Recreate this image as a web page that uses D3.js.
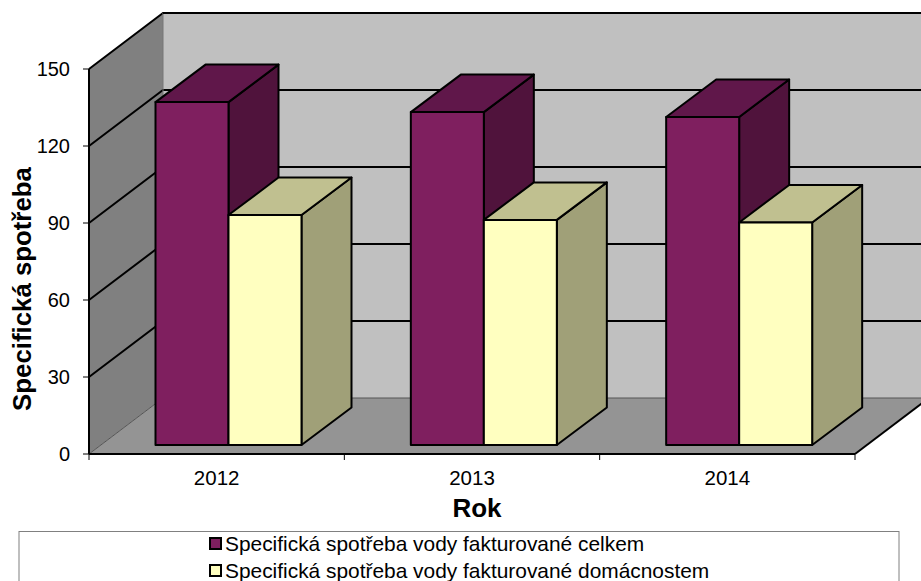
<!DOCTYPE html>
<html><head><meta charset="utf-8">
<script src="https://cdn.jsdelivr.net/npm/d3@7/dist/d3.min.js"></script>
<style>html,body{margin:0;padding:0;background:#fff}svg{display:block}text{font-family:"Liberation Sans",Arial,sans-serif;fill:#000}</style>
</head><body><svg id="c" width="921" height="581"></svg>
<script>
const years = ["2012","2013","2014"];
const total = [133.6,129.7,127.8];
const household = [89.6,87.7,86.7];
const seriesNames = ["Specifická spotřeba vody fakturované celkem","Specifická spotřeba vody fakturované domácnostem"];
const yTicks = [0,30,60,90,120,150];
const seriesFill = [
  {front:"#7f1f5f",top:"#60174a",side:"#50133c"},
  {front:"#ffffc0",top:"#c0c090",side:"#a0a078"}
];
const svg = d3.select("#c");
const X0=89,X1=855,Y0=454,Y1=69,DX=74,DY=-56;
const x = d3.scaleBand().domain(years).range([X0,X1]);
const y = d3.scaleLinear().domain([0,150]).range([Y0,Y1]);
const pts = a=>a.map(p=>p.join(",")).join(" ");
// walls
svg.append("polygon").attr("points",pts([[X0,Y1],[X0+DX,Y1+DY],[X0+DX,Y0+DY],[X0,Y0]])).attr("fill","#808080");
svg.append("polygon").attr("points",pts([[X0+DX,Y1+DY],[921,Y1+DY],[921,Y0+DY],[X0+DX,Y0+DY]])).attr("fill","#c0c0c0");
svg.append("polygon").attr("points",pts([[X0,Y0],[X0+DX,Y0+DY],[X1+DX,Y0+DY],[X1,Y0]])).attr("fill","#949494");
// grid
yTicks.forEach(t=>{
  const v=y(t), zero=t===0;
  svg.append("polyline").attr("points",pts([[X0,v],[X0+DX,v+DY],[921,v+DY]]))
    .attr("fill","none").attr("stroke",zero?"#555":"#000").attr("stroke-width",zero?1:2);
});
svg.append("line").attr("x1",X0+DX).attr("x2",X0+DX).attr("y1",Y1+DY).attr("y2",Y0+DY).attr("stroke","#777").attr("stroke-width",1);
// bars
const barW=73, bx=66.5, bdx=50, bdy=-37.5, base=Y0-9;
years.forEach((yr,i)=>{
  [total[i],household[i]].forEach((val,s)=>{
    const l=x(yr)+bx+s*barW, r=l+barW, h=Y0-y(val), t=base-h, c=seriesFill[s];
    const g=svg.append("g").attr("stroke","#000").attr("stroke-width",2).attr("stroke-linejoin","round");
    g.append("polygon").attr("points",pts([[r,t],[r+bdx,t+bdy],[r+bdx,base+bdy],[r,base]])).attr("fill",c.side);
    g.append("polygon").attr("points",pts([[l,t],[l+bdx,t+bdy],[r+bdx,t+bdy],[r,t]])).attr("fill",c.top);
    g.append("rect").attr("x",l).attr("y",t).attr("width",barW).attr("height",h).attr("fill",c.front);
  });
});
// frame + axes
const ax=svg.append("g").attr("stroke","#000").attr("fill","none");
ax.append("polyline").attr("points",pts([[X0+DX,Y1+DY],[921,Y1+DY]])).attr("stroke-width",2);
ax.append("line").attr("x1",X0).attr("x2",X0).attr("y1",Y1).attr("y2",Y0).attr("stroke-width",2);
ax.append("line").attr("x1",X0).attr("x2",X1).attr("y1",Y0).attr("y2",Y0).attr("stroke-width",2);
ax.append("line").attr("x1",X1).attr("x2",X1+DX).attr("y1",Y0).attr("y2",Y0+DY).attr("stroke-width",2);
yTicks.forEach(t=>ax.append("line").attr("x1",X0-6).attr("x2",X0).attr("y1",y(t)).attr("y2",y(t)).attr("stroke-width",1));
[...years.map(d=>x(d)),X1].forEach(v=>ax.append("line").attr("x1",v).attr("x2",v).attr("y1",Y0).attr("y2",Y0+6).attr("stroke-width",1));
// labels
yTicks.forEach(t=>svg.append("text").attr("x",70).attr("y",y(t)+7).attr("text-anchor","end").attr("font-size",20).text(t));
years.forEach(d=>svg.append("text").attr("x",x(d)+x.bandwidth()/2).attr("y",485).attr("text-anchor","middle").attr("font-size",20.5).text(d));
svg.append("text").attr("x",477).attr("y",517).attr("text-anchor","middle").attr("font-size",26).attr("font-weight","bold").text("Rok");
svg.append("text").attr("transform","translate(31,289) rotate(-90)").attr("text-anchor","middle").attr("font-size",25.8).attr("font-weight","bold").text("Specifická spotřeba");
// legend
svg.append("rect").attr("x",19).attr("y",531.5).attr("width",880).attr("height",60).attr("fill","#fff").attr("stroke","#808080").attr("stroke-width",1);
seriesNames.forEach((n,i)=>{
  const ly=544+i*27;
  svg.append("rect").attr("x",210).attr("y",ly-6).attr("width",11).attr("height",11).attr("fill",seriesFill[i].front).attr("stroke","#000").attr("stroke-width",2);
  svg.append("text").attr("x",225).attr("y",ly+7).attr("font-size",20.9).text(n);
});
</script></body></html>
